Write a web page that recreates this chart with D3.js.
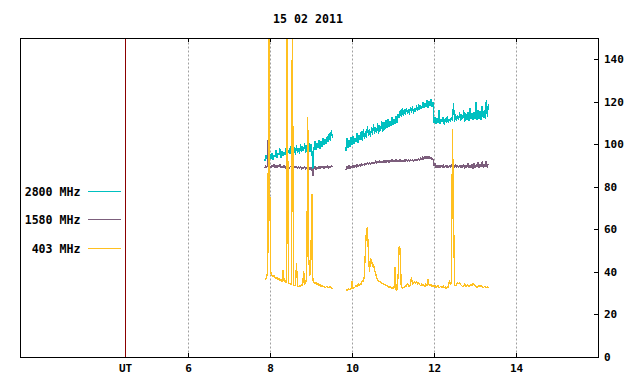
<!DOCTYPE html>
<html>
<head>
<meta charset="utf-8">
<script src="https://cdn.jsdelivr.net/npm/d3@7"></script>
<style>
  html, body { margin: 0; padding: 0; background: #fff; }
  svg { display: block; }
  text { font-family: "DejaVu Sans Mono", "Liberation Mono", monospace; font-weight: bold; fill: #000; }
</style>
</head>
<body>
<svg id="chart" width="640" height="384"></svg>
<script>
// ---------------- DATA ----------------
const title = "15 02 2011";
const xDomain = [1.9, 16.0];          // hours UT
const yDomain = [0, 150];
const xTicks = [6, 8, 10, 12, 14];
const xTickLabels = ["6", "8", "10", "12", "14"];
const utMarker = 4.463;                // position of the "UT" marker line
const utLabel = "UT";
const yTicks = [0, 20, 40, 60, 80, 100, 120, 140];
const yTickLabels = ["0", "20", "40", "60", "80", "100", "120", "140"];

const seriesNames = ["2800 MHz", "1580 MHz", "403 MHz"];
const seriesColors = ["#00c0c0", "#7c5e7c", "#ffc020"];

// sampling: two observing segments, regular sample interval (hours)
const seg1Start = 7.87, seg2Start = 9.85, sampleStep = 0.025;

// 2800 MHz
const f2800_seg1 = [92, 95, 93, 94.5, 91.5, 95.5, 93, 96, 92.5, 95,
  94, 97.5, 93.5, 96, 95, 98, 93.5, 97, 94.5, 96.5,
  95, 98.5, 94, 97.5, 95.5, 99, 94.5, 97, 96, 98.5,
  95, 99.5, 96, 98, 95.5, 100, 96.5, 99, 97, 100.5,
  96, 99.5, 97.5, 101, 96.5, 100, 97, 88, 98, 101.5,
  97.5, 100.5, 98.5, 102, 98, 101.5, 99, 103, 99.5, 102.5,
  100, 104, 101, 105.5, 101.5, 106.5, 103];
const f2800_seg2 = [97, 103, 98.5, 102, 99, 103.5, 99.5, 104, 100, 103,
  101, 105.5, 100.5, 104.5, 102, 106, 101.5, 107, 102.5, 106,
  103, 108.5, 104, 107, 103.5, 108, 104.5, 109.5, 105, 108,
  105.5, 110, 105, 109, 106.5, 111, 106, 110.5, 107, 111.5,
  107.5, 112, 108, 111, 108.5, 113, 109, 112, 109.5, 113.5,
  110, 114, 112.5, 116, 113, 117, 113.5, 116.5, 114, 117,
  114.5, 116.5, 114, 117.5, 115, 118, 114.5, 117, 115.5, 118.5,
  115.5, 119, 116, 118.5, 116.5, 120, 117, 119.5, 117.5, 121,
  117, 120.5, 118, 121.5, 117.5, 120, 110, 113, 109.5, 112.5,
  110, 116, 109.5, 112, 110.5, 113, 109, 112.5, 110, 113.5,
  110, 112, 110.5, 113, 111, 119.5, 110.5, 114, 111, 113.5,
  111.5, 115, 111, 114, 112, 116, 110.5, 114.5, 111.5, 115,
  111, 117, 112, 114.5, 111.5, 115, 112, 120, 111.5, 116,
  112, 115.5, 111.5, 118, 112.5, 116, 112, 121, 113, 119];

// 1580 MHz
const f1580_seg1 = [88.8, 90, 89.2, 90.3, 123, 89.6, 88.9, 90.2, 89.4, 90.5,
  89.1, 90.4, 88.8, 90, 89.3, 90.6, 88.9, 89.8, 89.2, 90.1,
  88.7, 89.9, 89, 90.2, 88.6, 89.7, 89.1, 90, 88.5, 89.6,
  88.8, 89.9, 88.3, 89.5, 88.7, 89.8, 88.2, 89.4, 88.6, 89.7,
  88.1, 89.3, 88.5, 89.6, 88, 89.2, 88.4, 85, 88.6, 89.5,
  88.2, 89.4, 88.7, 89.8, 88.3, 89.5, 88.8, 89.9, 88.5, 89.6,
  88.9, 90, 88.6, 89.7, 89, 90.1, 89.2];
const f1580_seg2 = [88, 89.8, 88.3, 90, 88.6, 89.9, 88.8, 90.2, 89, 90.4,
  89.2, 90.6, 89.4, 90.5, 89.6, 91, 89.8, 90.8, 90, 91.3,
  90.2, 91.6, 90.4, 91.4, 90.6, 91.8, 90.8, 91.6, 91, 92.3,
  91.1, 92, 91.3, 92.4, 91.2, 92.1, 91.4, 92.6, 91.5, 92.3,
  91.6, 92.7, 91.5, 92.4, 91.7, 92.8, 91.6, 92.5, 91.8, 92.9,
  91.7, 92.6, 91.9, 93, 91.8, 92.7, 91.9, 92.9, 91.8, 93.1,
  92, 92.8, 91.9, 93, 92.1, 92.9, 92, 93.2, 92.1, 93,
  92.3, 93.4, 92.5, 93.8, 92.7, 94.2, 92.9, 94.4, 93, 94.6,
  93.2, 94.3, 93, 94.1, 92.6, 93.2, 90, 91, 88.9, 90.3,
  89, 90.4, 88.8, 90.2, 89.1, 90.5, 88.9, 90.1, 89.2, 90.4,
  88.8, 90.3, 89, 90.5, 88.7, 90.2, 89.1, 90.6, 88.9, 90.1,
  89.2, 90.4, 88.8, 90.3, 89, 90.6, 88.7, 90.2, 89.1, 91,
  88.9, 90.3, 89.2, 90.5, 88.6, 91.2, 89, 90.4, 89.3, 91.5,
  88.8, 90.6, 89.2, 92, 89, 90.7, 89.4, 92.3, 89.1, 91];

// 403 MHz
const f403_seg1 = [37, 36.5, 38, 40.5, 170, 75, 39.5, 38.5, 38, 38.5,
  37.5, 37, 37.5, 36.5, 37, 36, 36.5, 35.5, 41, 35.5,
  36, 35, 170, 35, 34.5, 34.5, 34, 170, 34, 33.5,
  34, 44, 33.5, 33, 33.5, 33, 34, 33.5, 40.5, 34,
  35, 37.5, 113, 46, 38, 45, 76.5, 36, 35, 34.5,
  35, 34, 34.5, 33.5, 34, 33, 33.5, 33, 33, 32.5,
  33, 33, 32.5, 33, 33, 32.5, 32];
const f403_seg2 = [31.5, 31.5, 31.5, 32, 31.5, 32, 35.5, 32, 32.5, 33,
  33.5, 33, 34.5, 33.5, 34.5, 34, 36, 35.5, 38, 50,
  59.5, 61, 48.5, 40, 46.5, 45.5, 42.5, 43.5, 40.5, 39.5,
  37, 36.5, 35.5, 35.5, 35, 34.5, 34.5, 34, 34, 33.5,
  33.5, 33, 32.5, 33, 32.5, 32.5, 32, 32.5, 42.5, 31.5,
  31.5, 39, 52, 50.5, 33, 32.5, 32.5, 33, 33.5, 33,
  34.5, 33.5, 33, 34, 37.5, 34, 35, 35.5, 34.5, 35.5,
  34, 35, 34, 33.5, 34.5, 33.5, 34, 33, 34.5, 33.5,
  36.5, 34, 33.5, 34, 33, 33.5, 33, 33.5, 32.5, 33,
  33.5, 32.5, 33, 33, 32.5, 33.5, 32.5, 33, 32, 33,
  32.5, 36, 34, 35, 107, 70, 34, 33.5, 34, 35,
  34.5, 35, 34, 33.5, 33, 33.5, 34.5, 33, 33.5, 34,
  33, 33.5, 34, 33.5, 34.5, 34, 33.5, 33, 32.5, 33,
  33.5, 33, 33.5, 33, 32.5, 33, 33, 32.5, 33, 32.5];

// ---------------- CHART ----------------
const svg = d3.select("#chart");
const L = 20, R = 598, T = 38, B = 357;

const x = d3.scaleLinear().domain(xDomain).range([L, R]);
const y = d3.scaleLinear().domain(yDomain).range([B, T]);
const px = v => Math.floor(x(v)) + 0.5;
const py = v => Math.round(y(v)) + 0.5;

svg.append("defs").append("clipPath").attr("id", "plotclip")
  .append("rect").attr("x", L).attr("y", T).attr("width", R - L + 1).attr("height", B - T + 1);

// title
svg.append("text").attr("x", 308).attr("y", 23)
  .attr("text-anchor", "middle").attr("font-size", "11.6px").text(title);

// grid (dotted)
svg.append("g").selectAll("line").data(xTicks).join("line")
  .attr("x1", d => px(d)).attr("x2", d => px(d))
  .attr("y1", T + 0.5).attr("y2", B + 0.5)
  .attr("stroke", "#a0a0a0").attr("stroke-width", 1)
  .attr("stroke-dasharray", "2,2");

// UT marker line
svg.append("line")
  .attr("x1", px(utMarker)).attr("x2", px(utMarker))
  .attr("y1", T + 0.5).attr("y2", B + 0.5)
  .attr("stroke", "#8b0000").attr("stroke-width", 1);

// series
function buildSeries(start, vals) {
  return vals.map((v, i) => ({ t: start + i * sampleStep, v: v }));
}
const allSeries = [
  [buildSeries(seg1Start, f2800_seg1), buildSeries(seg2Start, f2800_seg2)],
  [buildSeries(seg1Start, f1580_seg1), buildSeries(seg2Start, f1580_seg2)],
  [buildSeries(seg1Start, f403_seg1), buildSeries(seg2Start, f403_seg2)]
];
const line = d3.line().x(d => x(d.t)).y(d => y(d.v));
const gData = svg.append("g").attr("clip-path", "url(#plotclip)");
allSeries.forEach((segs, si) => {
  segs.forEach(seg => {
    gData.append("path").datum(seg)
      .attr("d", line)
      .attr("fill", "none")
      .attr("stroke", seriesColors[si])
      .attr("stroke-width", 1.3)
      .attr("shape-rendering", "crispEdges")
      .attr("stroke-linejoin", "bevel");
  });
});

// frame
svg.append("rect").attr("x", L + 0.5).attr("y", T + 0.5)
  .attr("width", R - L).attr("height", B - T)
  .attr("fill", "none").attr("stroke", "#000").attr("stroke-width", 1);

// x ticks (inward, top & bottom)
const gx = svg.append("g");
gx.selectAll("line.b").data(xTicks).join("line").attr("class", "b")
  .attr("x1", d => px(d)).attr("x2", d => px(d))
  .attr("y1", B + 0.5).attr("y2", B - 4)
  .attr("stroke", "#000");
gx.selectAll("line.t").data(xTicks).join("line").attr("class", "t")
  .attr("x1", d => px(d)).attr("x2", d => px(d))
  .attr("y1", T + 0.5).attr("y2", T + 4)
  .attr("stroke", "#000");
gx.selectAll("text").data(xTicks).join("text")
  .attr("x", d => px(d)).attr("y", 372)
  .attr("text-anchor", "middle").attr("font-size", "11px")
  .text((d, i) => xTickLabels[i]);
svg.append("text").attr("x", px(utMarker)).attr("y", 372)
  .attr("text-anchor", "middle").attr("font-size", "11px").text(utLabel);

// y ticks on right axis
const gy = svg.append("g");
gy.selectAll("line").data(yTicks).join("line")
  .attr("x1", R + 0.5).attr("x2", R - 4)
  .attr("y1", d => py(d)).attr("y2", d => py(d))
  .attr("stroke", "#000");
gy.selectAll("text").data(yTicks).join("text")
  .attr("x", 604).attr("y", d => y(d) + 4)
  .attr("font-size", "11px")
  .text((d, i) => yTickLabels[i]);

// legend
const legendY = [191, 219, 248];
const gl = svg.append("g");
seriesNames.forEach((name, i) => {
  gl.append("text").attr("x", 80.5).attr("y", legendY[i] + 4.5)
    .attr("text-anchor", "end").attr("font-size", "11.6px").text(name);
  gl.append("line").attr("x1", 88).attr("x2", 121)
    .attr("y1", legendY[i] + 0.5).attr("y2", legendY[i] + 0.5)
    .attr("stroke", seriesColors[i]).attr("stroke-width", 1);
});
</script>
</body>
</html>
